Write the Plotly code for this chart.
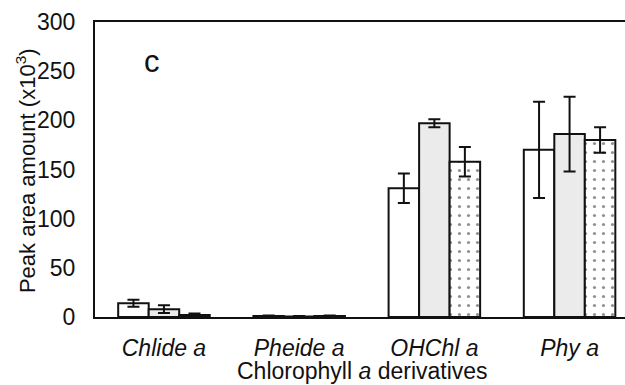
import plotly.graph_objects as go

categories = ["Chlide a", "Pheide a", "OHChl a", "Phy a"]
tick_labels = ["<i>Chlide a</i>", "<i>Pheide a</i>", "<i>OHChl a</i>", "<i>Phy a</i>"]
s1_vals = [14, 1, 131, 170]
s1_err = [3.5, 0.5, 15, 49]
s2_vals = [8, 0.5, 197, 186]
s2_err = [4, 0.5, 4, 38]
s3_vals = [2, 1, 158, 180]
s3_err = [1.5, 0.5, 15, 13]
y_ticks = [0, 50, 100, 150, 200, 250, 300]

FONT = "Liberation Sans, Arial, sans-serif"
FS = 23
line = dict(color="#111111", width=2)

def errbar(e):
    return dict(type="data", array=e, visible=True, color="#111111", thickness=2, width=6)

fig = go.Figure()
fig.add_bar(x=categories, y=s1_vals, error_y=errbar(s1_err),
            marker=dict(color="white", line=line))
fig.add_bar(x=categories, y=s2_vals, error_y=errbar(s2_err),
            marker=dict(color="#ebebeb", line=line))
fig.add_bar(x=categories, y=s3_vals, error_y=errbar(s3_err),
            marker=dict(color="white", line=line,
                        pattern=dict(shape=".", fgcolor="#222222", bgcolor="white",
                                     size=9, solidity=0.1)))

fig.update_layout(
    width=625, height=385,
    margin=dict(l=95, r=0, t=22, b=68, autoexpand=False),
    paper_bgcolor="white", plot_bgcolor="white",
    showlegend=False,
    barmode="group", bargap=0.323, bargroupgap=0,
    font=dict(family=FONT, size=FS, color="#111111"),
    xaxis=dict(range=[-0.51, 3.41], tickmode="array", tickvals=categories,
               ticktext=tick_labels, showline=True, linecolor="#111111", linewidth=2,
               mirror=True, showgrid=False, ticks="outside", ticklen=9,
               tickcolor="rgba(0,0,0,0)", tickfont=dict(size=FS), automargin=False),
    yaxis=dict(range=[0, 300], tickvals=y_ticks, showline=True, linecolor="#111111",
               linewidth=2, showgrid=False, zeroline=False, ticks="outside",
               ticklen=13, tickcolor="rgba(0,0,0,0)", tickfont=dict(size=FS),
               automargin=False),
    annotations=[
        dict(text="Peak area amount (x10<sup>3</sup>)", xref="paper", yref="paper",
             x=-0.13, y=0.495, xanchor="center", yanchor="middle", textangle=-90,
             showarrow=False, font=dict(size=22)),
        dict(text="Chlorophyll <i>a</i> derivatives", xref="paper", yref="paper",
             x=0.504, y=-0.184, xanchor="center", yanchor="middle", showarrow=False,
             font=dict(size=FS)),
        dict(text="c", xref="paper", yref="paper", x=0.108, y=0.865,
             xanchor="center", yanchor="middle", showarrow=False,
             font=dict(size=31)),
    ],
)

fig.write_html("out.html", config={"displayModeBar": False},
               post_script="document.body.style.margin='0';")
